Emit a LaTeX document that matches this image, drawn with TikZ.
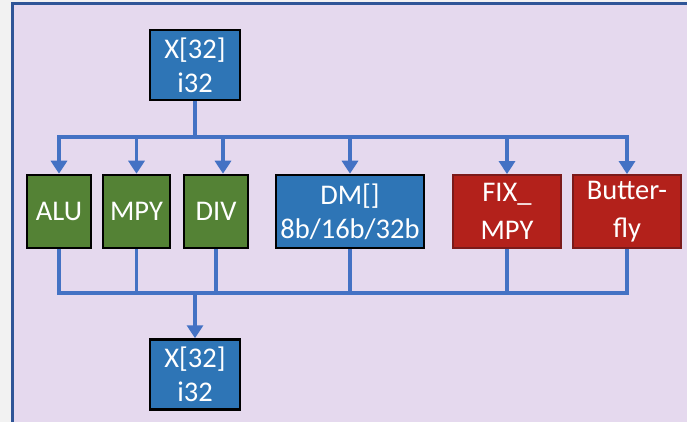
\documentclass[tikz,border=0pt]{standalone}
\usepackage{fontspec}
\setmainfont{Carlito}
\usetikzlibrary{arrows.meta,calc}
\definecolor{outerbg}{HTML}{F2F2F2}
\definecolor{panelbg}{HTML}{E5D9EE}
\definecolor{panelline}{HTML}{2F5597}
\definecolor{busblue}{HTML}{4472C4}
\definecolor{boxgreen}{HTML}{548235}
\definecolor{boxblue}{HTML}{2E75B6}
\definecolor{boxred}{HTML}{B3211B}
\definecolor{redline}{HTML}{7B1A1A}
\begin{document}
\begin{tikzpicture}[x=1pt,y=-1pt,
  unit/.style={draw=black,line width=2.5pt,text=white,inner sep=0pt,align=center,
    font=\fontsize{28.5}{34}\selectfont},
  gunit/.style={unit,fill=boxgreen,minimum height=73pt},
  bunit/.style={unit,fill=boxblue},
  runit/.style={unit,fill=boxred,draw=redline,line width=1.8pt,minimum height=73pt,
    font=\fontsize{28.5}{37.5}\selectfont},
  bus/.style={draw=busblue,line width=3.5pt},
  arr/.style={bus,-{Triangle[length=13pt,width=16pt]}}]
\useasboundingbox (0,0) rectangle (687,422);
\fill[outerbg] (0,0) rectangle (687,422);
\fill[panelbg] (12.5,4) rectangle (687,422);
\draw[panelline,line width=3pt] (12.5,430) -- (12.5,4) -- (695,4);

\node[bunit,minimum width=90pt,minimum height=70pt] (xin) at (195,65) {X[32]\\i32};
\node[gunit,minimum width=64pt] (alu) at (59,211.5) {ALU};
\node[gunit,minimum width=67pt] (mpy) at (136.5,211.5) {MPY};
\node[gunit,minimum width=64pt] (div) at (216,211.5) {DIV};
\node[bunit,minimum width=148pt,minimum height=73pt] (dm) at (350,211.5) {DM[]\\8b/16b/32b};
\node[runit,minimum width=108pt] (fix) at (507,211.5) {FIX\_\\MPY};
\node[runit,minimum width=108pt] (bf) at (627,211.5) {Butter-\\fly};
\node[bunit,minimum width=90pt,minimum height=70pt] (xout) at (195,374.5) {X[32]\\i32};

\coordinate (t) at (195,137);
\coordinate (b) at (195,293);
\coordinate (dtop) at ($(div.north)+(7,0)$);

\draw[bus] (xin.south) -- (t);
\draw[bus,line cap=rect] (alu.north |- t) -- (bf.north |- t);
\foreach \n in {alu,mpy,fix,bf,dm}{
  \draw[arr] (\n.north |- t) -- (\n.north);
}
\draw[arr] (dtop |- t) -- (dtop);

\foreach \n in {alu,mpy,div,dm,fix,bf}{
  \draw[bus] (\n.south) -- (\n.south |- b);
}
\draw[bus,line cap=rect] (alu.south |- b) -- (bf.south |- b);
\draw[arr] (b) -- (xout.north);
\end{tikzpicture}
\end{document}
